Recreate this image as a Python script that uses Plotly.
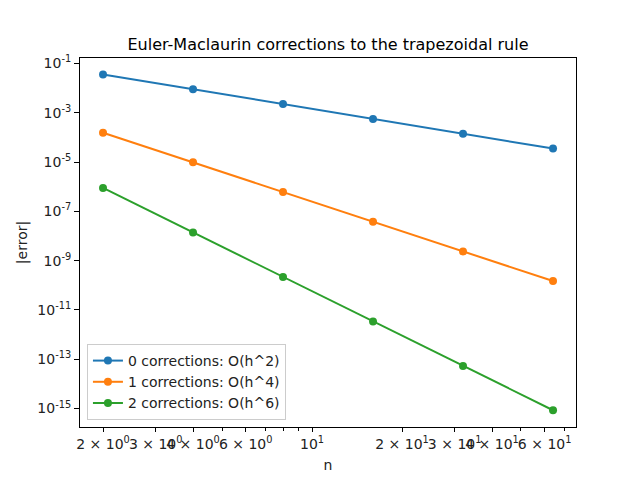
import plotly.graph_objects as go

n = [2, 4, 8, 16, 32, 64]
err_0corr = [3.59e-2, 8.98e-3, 2.24e-3, 5.61e-4, 1.40e-4, 3.51e-5]
err_1corr = [1.55e-4, 9.70e-6, 6.05e-7, 3.78e-8, 2.36e-9, 1.48e-10]
err_2corr = [8.9e-7, 1.39e-8, 2.17e-10, 3.4e-12, 5.3e-14, 8.5e-16]
labels = ["0 corrections: O(h^2)", "1 corrections: O(h^4)", "2 corrections: O(h^6)"]
colors = ["#1f77b4", "#ff7f0e", "#2ca02c"]

x_tickvals = [2, 3, 4, 6, 10, 20, 30, 40, 60]
x_ticktext = ["2 × 10<sup>0</sup>", "3 × 10<sup>0</sup>", "4 × 10<sup>0</sup>", "6 × 10<sup>0</sup>",
              "10<sup>1</sup>", "2 × 10<sup>1</sup>", "3 × 10<sup>1</sup>", "4 × 10<sup>1</sup>",
              "6 × 10<sup>1</sup>"]
x_minor = [5, 7, 8, 9, 50, 70]
y_exps = [-1, -3, -5, -7, -9, -11, -13, -15]

fig = go.Figure()
for errs, label, col in zip([err_0corr, err_1corr, err_2corr], labels, colors):
    fig.add_trace(go.Scatter(
        x=n, y=errs, mode="lines+markers", name=label,
        line=dict(color=col, width=2),
        marker=dict(color=col, size=8),
    ))

# page body has an 8px margin, so margins are shifted by 8px
font = "DejaVu Sans"
fig.update_layout(
    width=640, height=480,
    margin=dict(l=72, r=72, t=50, b=61, autoexpand=False),
    paper_bgcolor="white", plot_bgcolor="white",
    font=dict(family=font, size=13, color="#222222"),
    title=dict(text="Euler-Maclaurin corrections to the trapezoidal rule",
               x=(72 + 568) / 2 / 640, xanchor="center",
               y=1 - 36 / 480, yanchor="middle",
               font=dict(size=16, color="black")),
    showlegend=True,
    legend=dict(x=0.014, y=0.019, xanchor="left", yanchor="bottom",
                bgcolor="rgba(255,255,255,0.8)", bordercolor="#cccccc",
                borderwidth=1, font=dict(size=14)),
)
fig.update_xaxes(
    type="log", range=[0.224, 1.883], automargin=False,
    tickvals=x_tickvals, ticktext=x_ticktext, tickangle=0,
    tickfont=dict(size=14),
    ticks="outside", ticklen=4, tickcolor="black",
    minor=dict(tickvals=x_minor, ticks="outside", ticklen=3, tickcolor="black", showgrid=False),
    showline=True, linecolor="black", linewidth=1, mirror=True,
    showgrid=False, zeroline=False,
    title=dict(text="n", standoff=9, font=dict(size=14)),
)
fig.update_yaxes(
    type="log", range=[-15.75, -0.78], automargin=False,
    tickvals=[10 ** e for e in y_exps],
    ticktext=["10<sup>%d</sup>" % e for e in y_exps],
    tickfont=dict(size=14),
    ticks="outside", ticklen=5, tickcolor="black",
    showline=True, linecolor="black", linewidth=1, mirror=True,
    showgrid=False, zeroline=False,
    title=dict(text="|error|", standoff=6, font=dict(size=14)),
)

fig.write_html("out.html")
